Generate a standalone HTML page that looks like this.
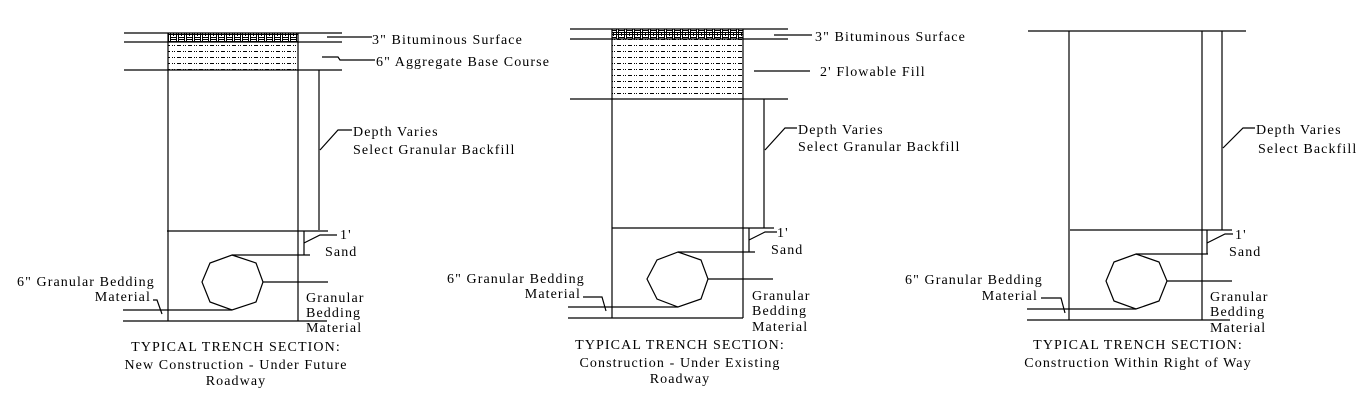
<!DOCTYPE html>
<html><head><meta charset="utf-8"><style>
html,body{margin:0;padding:0;background:#fff;}
svg{display:block}
text{font-family:"Liberation Serif",serif;font-size:14px;fill:#000;letter-spacing:1.1px}
</style></head><body>
<svg width="1367" height="401" viewBox="0 0 1367 401" xmlns="http://www.w3.org/2000/svg">
<defs>
<pattern id="bit" width="8" height="9" patternUnits="userSpaceOnUse">
<rect width="8" height="9" fill="#fff"/>
<rect x="0" y="0" width="1" height="9" fill="#000"/>
<rect x="2" y="0" width="1" height="9" fill="#000"/>
<rect x="3" y="1" width="5" height="1" fill="#000"/>
<rect x="3" y="3" width="5" height="1" fill="#000"/>
<rect x="0" y="5" width="8" height="1" fill="#000"/>
<rect x="5" y="5" width="1" height="4" fill="#000"/>
<rect x="0" y="7" width="8" height="1" fill="#000"/>
</pattern>
<pattern id="agg" width="11" height="6" patternUnits="userSpaceOnUse">
<rect width="11" height="6" fill="#fff"/>
<rect x="1" y="3" width="4" height="1" fill="#000"/>
<rect x="7" y="3" width="1" height="1" fill="#000"/>
<rect x="9" y="3" width="1" height="1" fill="#000"/>
</pattern>
</defs>
<g stroke="#000" stroke-width="1.2" fill="none">
<!-- Panel 1 -->
<rect x="168" y="33" width="130" height="9" fill="url(#bit)" stroke="none"/>
<rect x="168" y="42" width="130" height="28" fill="url(#agg)" stroke="none"/>
<line x1="124" y1="33" x2="342" y2="33"/>
<line x1="124" y1="42" x2="342" y2="42"/>
<line x1="124" y1="70" x2="342" y2="70"/>
<line x1="168" y1="33" x2="168" y2="321"/>
<line x1="298" y1="33" x2="298" y2="321"/>
<line x1="319" y1="70" x2="319" y2="230"/>
<line x1="327" y1="37" x2="372" y2="37"/>
<polyline points="322,57 338,57 340,60 375,60"/>
<polyline points="320,150 338,130 352,130"/>
<line x1="167" y1="231" x2="328" y2="231"/>
<line x1="123" y1="321" x2="327" y2="321"/>
<line x1="123" y1="310" x2="232" y2="310"/>
<polygon points="232,255 256,263 263,282 256,302 232,310 210,302 202,282 210,263"/>
<line x1="263" y1="282" x2="328" y2="282"/>
<line x1="232" y1="255" x2="310" y2="255"/>
<line x1="304" y1="231" x2="304" y2="255"/>
<polyline points="304,243 320,235 337,235"/>
<polyline points="153,300 157,300 162,314"/>
<!-- Panel 2 -->
<rect x="612" y="29" width="131" height="10" fill="url(#bit)" stroke="none"/>
<rect x="612" y="39" width="131" height="60" fill="url(#agg)" stroke="none"/>
<line x1="570" y1="29" x2="788" y2="29"/>
<line x1="570" y1="39" x2="788" y2="39"/>
<line x1="570" y1="99" x2="788" y2="99"/>
<line x1="612" y1="29" x2="612" y2="318"/>
<line x1="743" y1="29" x2="743" y2="318"/>
<line x1="764" y1="99" x2="764" y2="228"/>
<line x1="774" y1="35" x2="812" y2="35"/>
<line x1="754" y1="71" x2="810" y2="71"/>
<polyline points="765,150 785,128 797,128"/>
<line x1="612" y1="228" x2="774" y2="228"/>
<line x1="568" y1="318" x2="743" y2="318"/>
<line x1="568" y1="307" x2="678" y2="307"/>
<polygon points="678,252 701,260 708,279 701,299 678,307 657,299 647,279 657,260"/>
<line x1="708" y1="279" x2="773" y2="279"/>
<line x1="678" y1="252" x2="755" y2="252"/>
<line x1="749" y1="228" x2="749" y2="252"/>
<polyline points="749,240 765,232 777,232"/>
<polyline points="583,297 602,297 606,311"/>
<!-- Panel 3 -->
<line x1="1028" y1="31" x2="1246" y2="31"/>
<line x1="1069" y1="31" x2="1069" y2="320"/>
<line x1="1202" y1="31" x2="1202" y2="320"/>
<line x1="1222" y1="31" x2="1222" y2="230"/>
<polyline points="1223,148 1243,128 1255,128"/>
<line x1="1070" y1="230" x2="1232" y2="230"/>
<line x1="1027" y1="320" x2="1230" y2="320"/>
<line x1="1027" y1="309" x2="1136" y2="309"/>
<polygon points="1136,254 1159,262 1167,281 1159,301 1136,309 1114,301 1106,281 1114,262"/>
<line x1="1167" y1="281" x2="1232" y2="281"/>
<line x1="1136" y1="254" x2="1208" y2="254"/>
<line x1="1207" y1="230" x2="1207" y2="254"/>
<polyline points="1207,243 1225,234 1233,234"/>
<polyline points="1041,298 1061,298 1065,313"/>
</g>
<!-- Panel 1 text -->
<text x="372" y="44">3" Bituminous Surface</text>
<text x="376" y="66">6" Aggregate Base Course</text>
<text x="353" y="136">Depth Varies</text>
<text x="353" y="154">Select Granular Backfill</text>
<text x="340" y="239">1'</text>
<text x="325" y="256">Sand</text>
<text x="17" y="286">6" Granular Bedding</text>
<text x="151" y="301" text-anchor="end">Material</text>
<text x="306" y="302">Granular</text>
<text x="306" y="317">Bedding</text>
<text x="306" y="332">Material</text>
<text x="236" y="351" text-anchor="middle">TYPICAL TRENCH SECTION:</text>
<text x="236" y="369" text-anchor="middle">New Construction - Under Future</text>
<text x="236" y="385" text-anchor="middle">Roadway</text>
<!-- Panel 2 text -->
<text x="815" y="41">3" Bituminous Surface</text>
<text x="820" y="76">2' Flowable Fill</text>
<text x="798" y="134">Depth Varies</text>
<text x="798" y="151">Select Granular Backfill</text>
<text x="777" y="237">1'</text>
<text x="771" y="254">Sand</text>
<text x="447" y="283">6" Granular Bedding</text>
<text x="581" y="298" text-anchor="end">Material</text>
<text x="752" y="300">Granular</text>
<text x="752" y="315">Bedding</text>
<text x="752" y="331">Material</text>
<text x="680" y="349" text-anchor="middle">TYPICAL TRENCH SECTION:</text>
<text x="680" y="367" text-anchor="middle">Construction - Under Existing</text>
<text x="680" y="383" text-anchor="middle">Roadway</text>
<!-- Panel 3 text -->
<text x="1256" y="134">Depth Varies</text>
<text x="1258" y="153">Select Backfill</text>
<text x="1235" y="239">1'</text>
<text x="1229" y="256">Sand</text>
<text x="905" y="284">6" Granular Bedding</text>
<text x="1038" y="300" text-anchor="end">Material</text>
<text x="1210" y="301">Granular</text>
<text x="1210" y="316">Bedding</text>
<text x="1210" y="332">Material</text>
<text x="1138" y="349" text-anchor="middle">TYPICAL TRENCH SECTION:</text>
<text x="1138" y="367" text-anchor="middle">Construction Within Right of Way</text>
</svg>
</body></html>
